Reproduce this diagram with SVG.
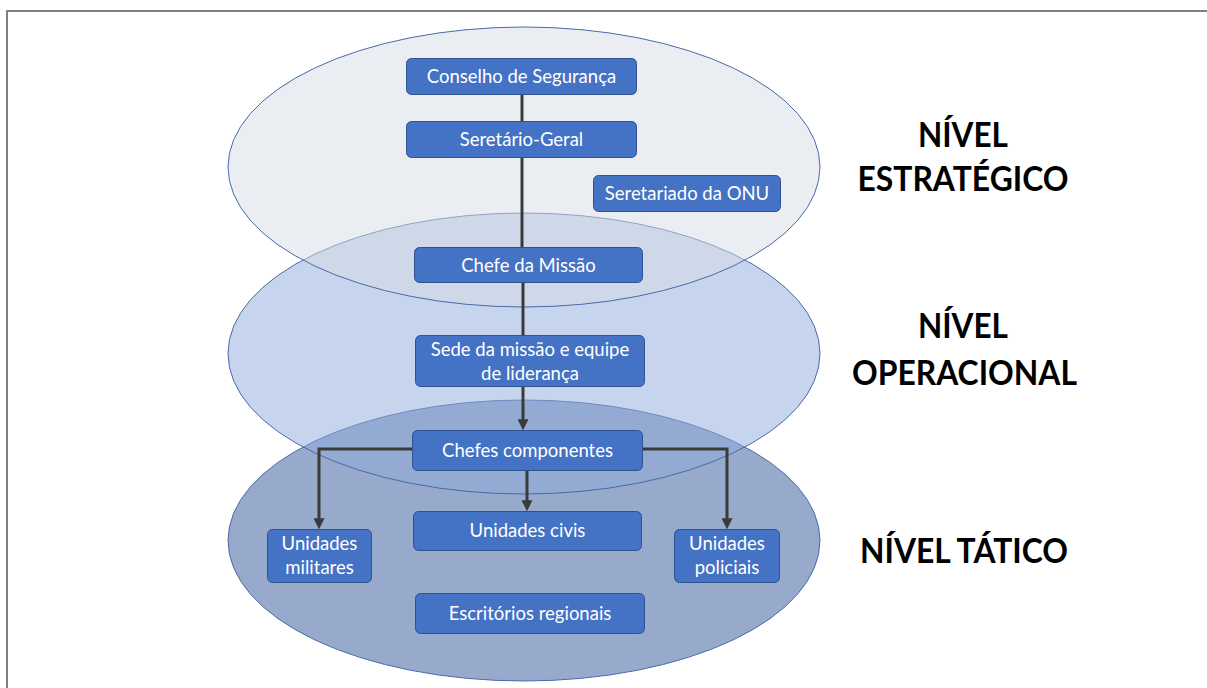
<svg xmlns="http://www.w3.org/2000/svg" width="1207" height="688" viewBox="0 0 1207 688">
  <style>
    .box { fill: #4472c4; stroke: #2f528f; stroke-width: 1; }
    .lbl { font-family: Lato, "Liberation Sans", sans-serif; font-size: 18.5px; fill: #ffffff; text-anchor: middle; }
    .lvl { font-family: Lato, "Liberation Sans", sans-serif; font-weight: bold; font-size: 35px; fill: #000000; text-anchor: middle; }
    .ell { stroke: #4a6aa8; stroke-width: 1; }
    .conn { fill: none; stroke: #3a3a3a; stroke-width: 3; }
  </style>
  <defs>
    <marker id="arrow" markerUnits="userSpaceOnUse" viewBox="0 0 10 10" refX="7" refY="5" markerWidth="11" markerHeight="11" orient="auto">
      <path d="M0,0 L10,5 L0,10 z" fill="#3a3a3a"/>
    </marker>
  </defs>
  <rect width="1207" height="688" fill="#ffffff"/>
  <rect x="7" y="11" width="1260" height="720" fill="none" stroke="#7f7f7f" stroke-width="2"/>

  <g id="ellipses">
    <ellipse id="ellipse-tatico" class="ell" cx="524" cy="540.5" rx="296" ry="140.5" fill="#97aacb"/>
    <ellipse id="ellipse-operacional" class="ell" cx="524" cy="353.5" rx="296" ry="140.5" fill="#8faadc" fill-opacity="0.5"/>
    <ellipse id="ellipse-estrategico" class="ell" cx="524" cy="167" rx="296" ry="140" fill="#d6dce5" fill-opacity="0.5"/>
  </g>

  <g id="connectors">
    <path class="conn" d="M522,94 V247"/>
    <path class="conn" d="M523,282 V335"/>
    <path class="conn" d="M523,386 V427" marker-end="url(#arrow)"/>
    <path class="conn" d="M527,470 V508" marker-end="url(#arrow)"/>
    <path class="conn" d="M413,449 H319 V526" marker-end="url(#arrow)"/>
    <path class="conn" d="M643,449 H727 V526" marker-end="url(#arrow)"/>
  </g>

  <g id="conselho">
    <rect class="box" x="406.5" y="58.5" width="230" height="36" rx="5"/>
    <text class="lbl" x="521.5" y="83">Conselho de Segurança</text>
  </g>
  <g id="secretario">
    <rect class="box" x="406.5" y="121.5" width="230" height="36" rx="5"/>
    <text class="lbl" x="521.5" y="146">Seretário-Geral</text>
  </g>
  <g id="secretariado">
    <rect class="box" x="593.5" y="175.5" width="187" height="36" rx="5"/>
    <text class="lbl" x="687" y="200">Seretariado da ONU</text>
  </g>
  <g id="chefe-missao">
    <rect class="box" x="414.5" y="247.5" width="228" height="35" rx="5"/>
    <text class="lbl" x="528.5" y="271.5">Chefe da Missão</text>
  </g>
  <g id="sede">
    <rect class="box" x="415.5" y="335.5" width="229" height="51" rx="5"/>
    <text class="lbl" x="530" y="355.5">Sede da missão e equipe</text>
    <text class="lbl" x="530" y="379.5">de liderança</text>
  </g>
  <g id="chefes-componentes">
    <rect class="box" x="412.5" y="430.5" width="230" height="40" rx="5"/>
    <text class="lbl" x="527.5" y="456.5">Chefes componentes</text>
  </g>
  <g id="militares">
    <rect class="box" x="267.5" y="529.5" width="104" height="53" rx="5"/>
    <text class="lbl" x="319.5" y="550">Unidades</text>
    <text class="lbl" x="319.5" y="574">militares</text>
  </g>
  <g id="civis">
    <rect class="box" x="413.5" y="511.5" width="228" height="39" rx="5"/>
    <text class="lbl" x="527.5" y="537">Unidades civis</text>
  </g>
  <g id="policiais">
    <rect class="box" x="674.5" y="529.5" width="105" height="53" rx="5"/>
    <text class="lbl" x="727" y="550">Unidades</text>
    <text class="lbl" x="727" y="574">policiais</text>
  </g>
  <g id="escritorios">
    <rect class="box" x="415.5" y="593.5" width="229" height="40" rx="5"/>
    <text class="lbl" x="530" y="619.5">Escritórios regionais</text>
  </g>

  <g id="labels">
    <text class="lvl" x="963" y="147" textLength="90" lengthAdjust="spacingAndGlyphs">NÍVEL</text>
    <text class="lvl" x="963" y="191" textLength="211" lengthAdjust="spacingAndGlyphs">ESTRATÉGICO</text>
    <text class="lvl" x="963" y="338" textLength="90" lengthAdjust="spacingAndGlyphs">NÍVEL</text>
    <text class="lvl" x="964.5" y="385" textLength="225" lengthAdjust="spacingAndGlyphs">OPERACIONAL</text>
    <text class="lvl" x="964" y="563" textLength="208" lengthAdjust="spacingAndGlyphs">NÍVEL TÁTICO</text>
  </g>
</svg>
